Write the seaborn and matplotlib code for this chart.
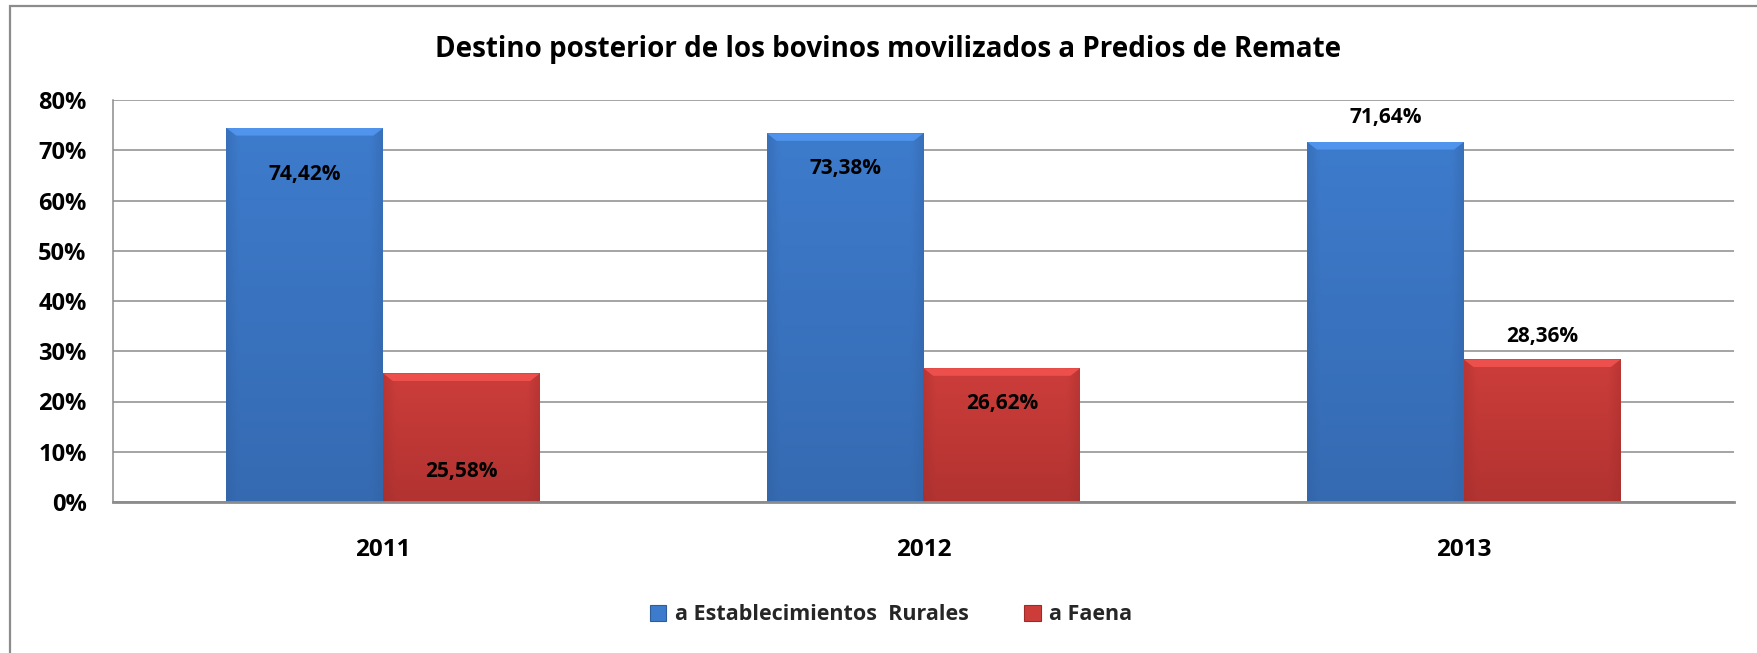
import numpy as np
import pandas as pd
import matplotlib
matplotlib.use("Agg")
import matplotlib.pyplot as plt
from matplotlib.patches import Polygon, Rectangle
from matplotlib.colors import to_rgb
import seaborn as sns

# ---- data ----
years = ["2011", "2012", "2013"]
series_names = ["a Establecimientos  Rurales", "a Faena"]
establecimientos = [74.42, 73.38, 71.64]
faena = [25.58, 26.62, 28.36]
y_ticks = [0, 10, 20, 30, 40, 50, 60, 70, 80]
title = "Destino posterior de los bovinos movilizados a Predios de Remate"

# vertical placement of each value label relative to its bar top (percentage points)
label_shift = {
    series_names[0]: [-9.3, -7.1, 4.8],
    series_names[1]: [-19.6, -7.1, 4.6],
}

colors = {series_names[0]: "#3d7bcc", series_names[1]: "#cc3d3a"}
dark = {series_names[0]: "#2f5d9c", series_names[1]: "#9c2b2a"}

df = pd.DataFrame({
    "year": years * 2,
    "serie": [series_names[0]] * 3 + [series_names[1]] * 3,
    "valor": establecimientos + faena,
})

sns.set_theme(style="white")
plt.rcParams["font.family"] = ["Open Sans", "DejaVu Sans"]
plt.rcParams["font.weight"] = "bold"

fig = plt.figure(figsize=(17.58, 6.53), dpi=100)
ax = fig.add_axes([113 / 1758, 151 / 653, (1734 - 113) / 1758, (502 - 100) / 653])

sns.barplot(data=df, x="year", y="valor", hue="serie", hue_order=series_names,
            palette=colors, width=0.58, gap=0, dodge=True, legend=False,
            saturation=1, ax=ax, zorder=3, linewidth=0)

ax.set_ylim(0, 80)
ax.set_xlim(-0.5, 2.5)


def shade(base, dk, nx=60, ny=120):
    """RGB array: lighter top, darker bottom, darker side edges."""
    b = np.array(to_rgb(base))
    d = np.array(to_rgb(dk))
    t = np.linspace(0, 1, ny)[:, None, None]          # 0 at top -> 1 at bottom
    col = b * (1 - 0.55 * t) + d * (0.55 * t)
    xs = np.linspace(-1, 1, nx)[None, :, None]
    edge = np.clip((np.abs(xs) - 0.85) / 0.15, 0, 1)
    col = col * (1 - 0.35 * edge) + d * 0.35 * edge * np.ones_like(col)
    col = np.broadcast_to(col, (ny, nx, 3)).copy()
    return np.clip(col, 0, 1)


for cont, name in zip(ax.containers, series_names):
    for rect, shift, val in zip(cont.patches, label_shift[name], cont.datavalues):
        x0, y0 = rect.get_x(), rect.get_y()
        w, h = rect.get_width(), rect.get_height()
        img = shade(colors[name], dark[name])
        im = ax.imshow(img, extent=[x0, x0 + w, y0, y0 + h], aspect="auto",
                       origin="upper", zorder=3.1, interpolation="bilinear")
        im.set_clip_path(rect)
        # soft bevel highlight across the top of the bar
        dx, dy = 0.018, 1.5
        top = y0 + h
        light = tuple(np.clip(np.array(to_rgb(colors[name])) * 1.12 + 0.06, 0, 1))
        ax.add_patch(Polygon([(x0, top), (x0 + w, top), (x0 + w - dx, top - dy),
                              (x0 + dx, top - dy)], closed=True, facecolor=light,
                             edgecolor="none", zorder=3.2, alpha=0.85))
        label = f"{val:.2f}".replace(".", ",") + "%"
        ax.text(x0 + w / 2, val + shift, label, ha="center", va="center",
                fontsize=15, fontweight="bold", color="black", zorder=5)

ax.set_ylim(0, 80)
ax.set_xlim(-0.5, 2.5)

ax.set_yticks(y_ticks)
ax.set_yticklabels([f"{v}%" for v in y_ticks], fontsize=17, fontweight="bold")
ax.tick_params(axis="y", length=0, pad=19, colors="black")
ax.tick_params(axis="x", length=0, pad=26, labelsize=17.5, colors="black")
for lbl in ax.get_xticklabels():
    lbl.set_fontweight("bold")
ax.set_xlabel("")
ax.set_ylabel("")

ax.yaxis.grid(True, color="#8c8c8c", linewidth=1.1, zorder=0)
ax.set_axisbelow(True)
for s in ["top", "right"]:
    ax.spines[s].set_visible(False)
ax.spines["left"].set_color("#8c8c8c")
ax.spines["left"].set_linewidth(1.1)
ax.spines["bottom"].set_color("#8c8c8c")
ax.spines["bottom"].set_linewidth(2.0)
ax.spines["bottom"].set_zorder(6)

fig.text(888 / 1758, 1 - 49 / 653, title, ha="center", va="center",
         fontsize=20, fontweight="bold", color="black")

handles = [Rectangle((0, 0), 1, 1, facecolor=colors[n], edgecolor=dark[n], linewidth=0.8)
           for n in series_names]
fig.legend(handles, series_names, loc="center", bbox_to_anchor=(891 / 1758, 1 - 615 / 653),
           ncol=2, frameon=False, handlelength=0.75, handleheight=0.75,
           handletextpad=0.4, columnspacing=2.6, prop={"weight": "bold", "size": 15.5})

# outer chart border
fig.add_artist(Rectangle((10 / 1758, -0.05), 1.2, 1 - 6 / 653 + 0.05,
                         transform=fig.transFigure, facecolor="none",
                         edgecolor="#8c8c8c", linewidth=1.6, zorder=0))

fig.savefig("out.png", dpi=100)
